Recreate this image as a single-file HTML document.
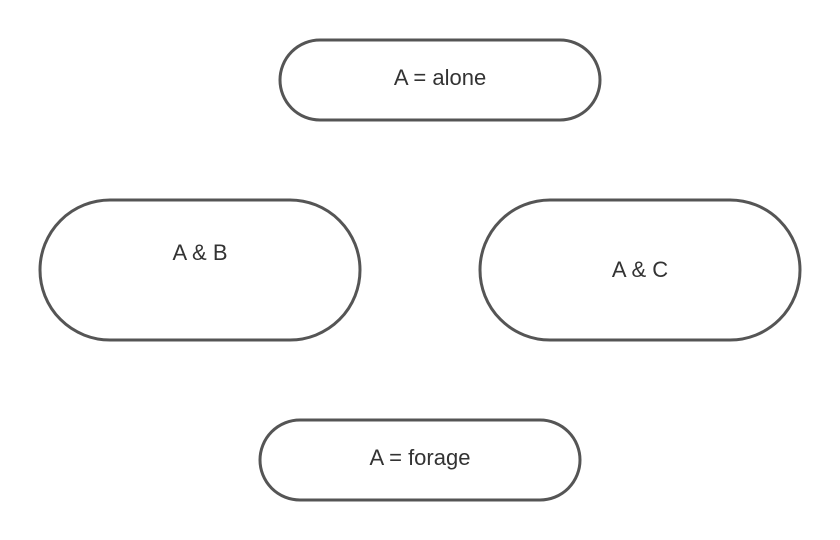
<!DOCTYPE html>
<html>
<head>
<meta charset="utf-8">
<style>
html,body{margin:0;padding:0;background:#fff;}
svg{display:block;}
text{font-family:"Liberation Sans",sans-serif;font-size:22px;fill:#333;}
</style>
</head>
<body>
<svg width="840" height="540" viewBox="0 0 840 540">
  <g>
    <rect x="280" y="40" width="320" height="80" rx="40" ry="40" fill="#fff" stroke="#555" stroke-width="3"/>
    <text x="440" y="85" text-anchor="middle">A = alone</text>
  </g>
  <g>
    <rect x="40" y="200" width="320" height="140" rx="70" ry="70" fill="#fff" stroke="#555" stroke-width="3"/>
    <text x="200" y="260" text-anchor="middle">A &amp; B</text>
  </g>
  <g>
    <rect x="480" y="200" width="320" height="140" rx="70" ry="70" fill="#fff" stroke="#555" stroke-width="3"/>
    <text x="640" y="277" text-anchor="middle">A &amp; C</text>
  </g>
  <g>
    <rect x="260" y="420" width="320" height="80" rx="40" ry="40" fill="#fff" stroke="#555" stroke-width="3"/>
    <text x="420" y="465" text-anchor="middle">A = forage</text>
  </g>
</svg>
</body>
</html>
